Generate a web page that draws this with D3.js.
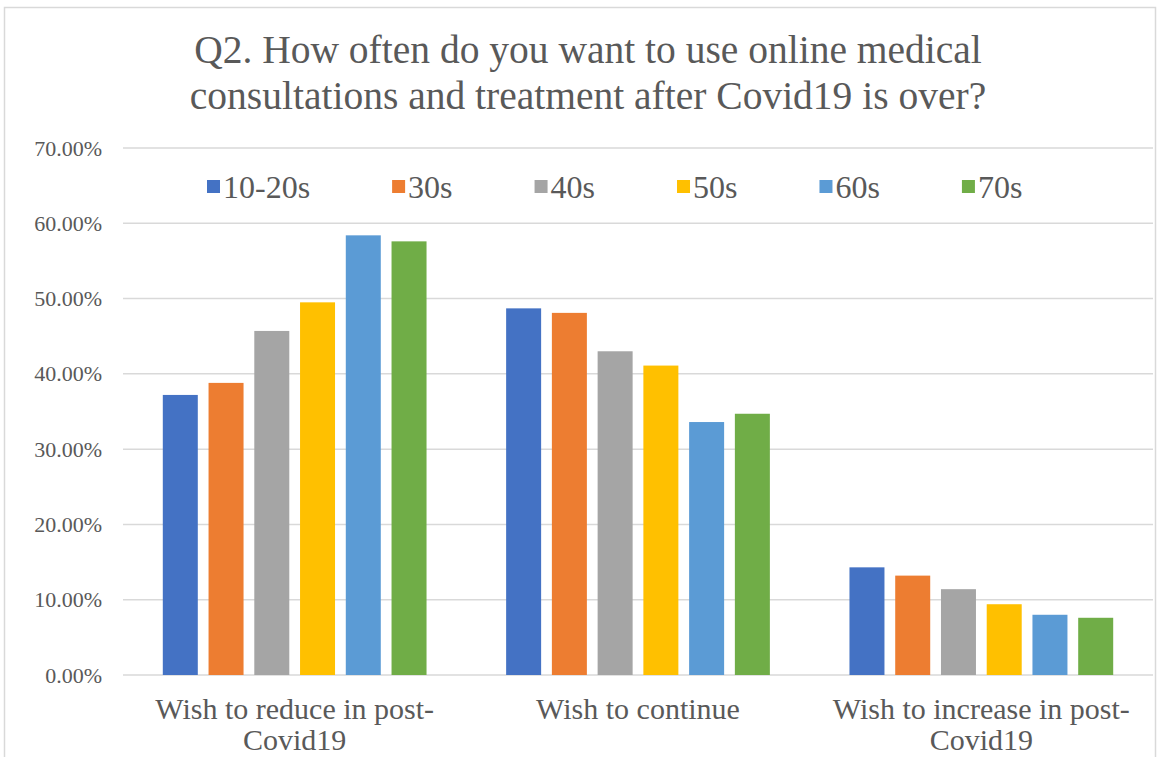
<!DOCTYPE html>
<html>
<head>
<meta charset="utf-8">
<script src="https://cdn.jsdelivr.net/npm/d3@7"></script>
<style>
  html, body { margin: 0; padding: 0; background: #ffffff; }
  svg { display: block; }
  svg text { font-family: "Liberation Serif", "Times New Roman", Times, "DejaVu Serif", serif; }
</style>
</head>
<body>
<svg id="chart" width="1161" height="757"></svg>
<script>
// ---- data ----
const categories = [["Wish to reduce in post-", "Covid19"], ["Wish to continue"], ["Wish to increase in post-", "Covid19"]];
const categoryKeys = ["reduce", "continue", "increase"];
const seriesNames = ["10-20s", "30s", "40s", "50s", "60s", "70s"];
const values1020 = [37.2, 48.7, 14.3];
const values30 = [38.8, 48.1, 13.2];
const values40 = [45.7, 43.0, 11.4];
const values50 = [49.5, 41.1, 9.4];
const values60 = [58.4, 33.6, 8.0];
const values70 = [57.6, 34.7, 7.6];
const yTicks = [0, 10, 20, 30, 40, 50, 60, 70];
const titleLines = ["Q2. How often do you want to use online medical", "consultations and treatment after Covid19 is over?"];

const seriesValues = [values1020, values30, values40, values50, values60, values70];
const colors = ["#4472C4", "#ED7D31", "#A5A5A5", "#FFC000", "#5B9BD5", "#70AD47"];

const svg = d3.select("#chart");
const textColor = "#595959";

// chart border
svg.append("rect")
  .attr("x", 4.5).attr("y", 7.5)
  .attr("width", 1151).attr("height", 800)
  .attr("fill", "#ffffff").attr("stroke", "#d9d9d9").attr("stroke-width", 1.5);

// title
svg.append("g").selectAll("text").data(titleLines).join("text")
  .attr("x", 588)
  .attr("y", (d, i) => 63 + i * 46)
  .attr("text-anchor", "middle")
  .attr("font-size", 39.5)
  .attr("fill", textColor)
  .text(d => d);

// scales
const plotLeft = 123, plotRight = 1153, plotTop = 148, plotBottom = 675;
const y = d3.scaleLinear().domain([0, 70]).range([plotBottom, plotTop]);
const x0 = d3.scaleBand().domain(categoryKeys).range([plotLeft, plotRight]).padding(0);
const x1 = d3.scaleBand().domain(seriesNames).range([0, x0.bandwidth()])
  .paddingInner(0.235).paddingOuter(0.87);

// gridlines
svg.append("g").selectAll("line").data(yTicks).join("line")
  .attr("x1", plotLeft).attr("x2", plotRight)
  .attr("y1", d => y(d)).attr("y2", d => y(d))
  .attr("stroke", "#d9d9d9").attr("stroke-width", 1.5);

// y axis labels
const yAxis = d3.axisLeft(y).tickValues(yTicks)
  .tickFormat(d => d3.format(".2f")(d) + "%")
  .tickSize(0).tickPadding(0);
const yg = svg.append("g").attr("transform", `translate(102,0)`).call(yAxis);
yg.select(".domain").remove();
yg.attr("font-family", null);
yg.selectAll("text")
  .attr("font-size", 22).attr("fill", textColor);

// bars
const groups = svg.append("g").selectAll("g").data(categoryKeys).join("g")
  .attr("transform", d => `translate(${x0(d)},0)`);
groups.selectAll("rect")
  .data((d, ci) => seriesNames.map((s, si) => ({ s, si, v: seriesValues[si][ci] })))
  .join("rect")
  .attr("x", d => x1(d.s))
  .attr("width", x1.bandwidth())
  .attr("y", d => y(d.v))
  .attr("height", d => y(0) - y(d.v))
  .attr("fill", d => colors[d.si]);

// x axis labels
const xg = svg.append("g");
categoryKeys.forEach((k, i) => {
  const cx = x0(k) + x0.bandwidth() / 2;
  xg.append("g").selectAll("text").data(categories[i]).join("text")
    .attr("x", cx)
    .attr("y", (d, j) => 719 + j * 31)
    .attr("text-anchor", "middle")
    .attr("font-size", 30)
    .attr("fill", textColor)
    .text(d => d);
});

// legend
const lg = svg.append("g");
let lx = 207;
const ly = 187;
seriesNames.forEach((name, i) => {
  lg.append("rect")
    .attr("x", lx).attr("y", ly - 7)
    .attr("width", 13).attr("height", 13)
    .attr("fill", colors[i]);
  const t = lg.append("text")
    .attr("x", lx + 16).attr("y", ly + 11)
    .attr("font-size", 32)
    .attr("fill", textColor)
    .text(name);
  const w = t.node().getComputedTextLength();
  lx = lx + 16 + w + 82;
});
</script>
</body>
</html>
